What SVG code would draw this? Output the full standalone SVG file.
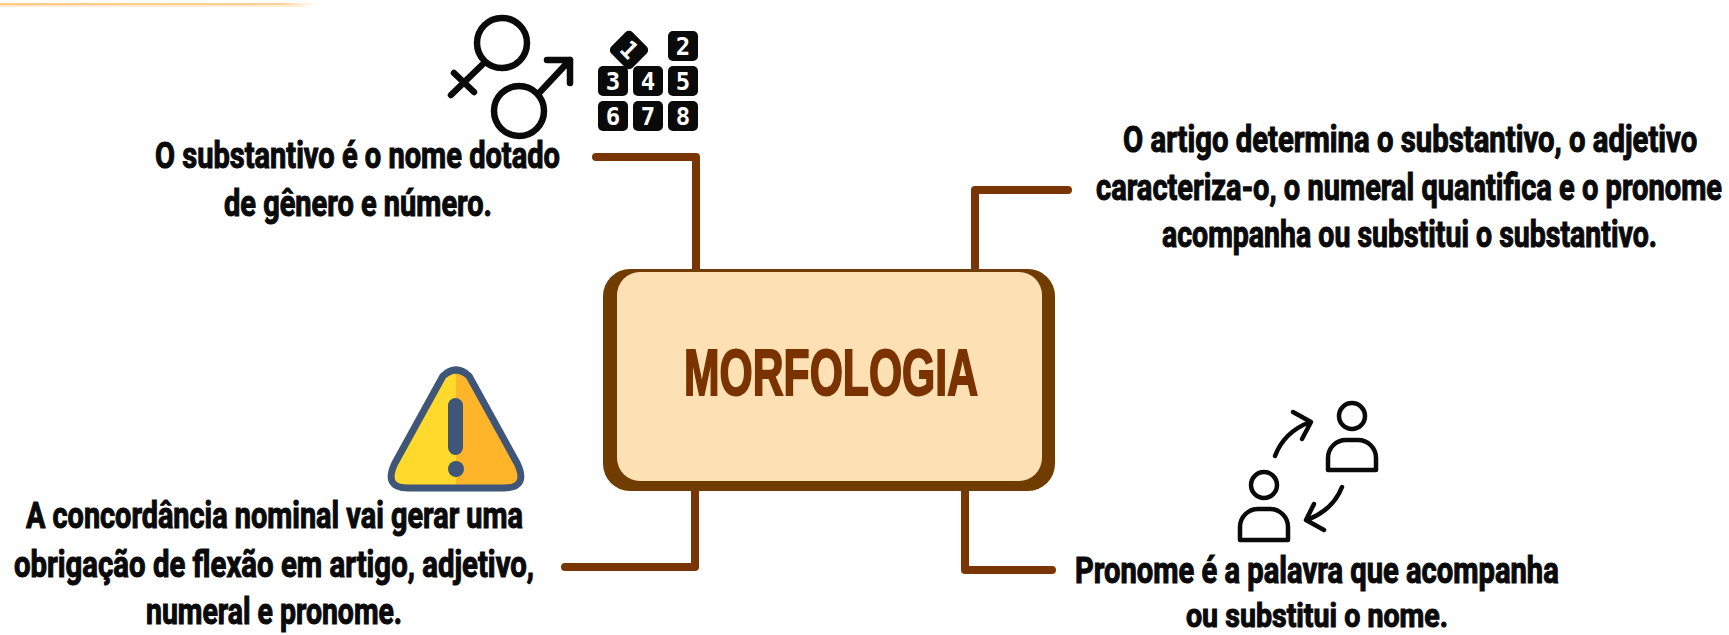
<svg xmlns="http://www.w3.org/2000/svg" width="1729" height="635" viewBox="0 0 1729 635">
<style>
.t{font-family:"Roboto","Liberation Sans",sans-serif;font-weight:700;font-size:36px;fill:#0a0a0a;stroke:#0a0a0a;stroke-width:1.1px}
.c{fill:none;stroke:#7a3504;stroke-width:8;stroke-linecap:round;stroke-linejoin:round}
.i{fill:none;stroke:#0a0a0a;stroke-linecap:round;stroke-linejoin:round}
.k{fill:#0a0a0a}
.n{font-family:"DejaVu Sans Mono","Liberation Mono",monospace;font-weight:700;font-size:24px;fill:#fff;text-anchor:middle}
</style>
<defs>
<linearGradient id="fade" x1="0" y1="0" x2="1" y2="0"><stop offset="0" stop-color="#ffc981"/><stop offset=".9" stop-color="#ffd199"/><stop offset="1" stop-color="#ffe8cc" stop-opacity=".2"/></linearGradient>
</defs>
<rect width="1729" height="635" fill="#fff"/>
<rect x="0" y="3" width="315" height="2.5" fill="url(#fade)"/>
<rect x="0" y="5.5" width="305" height="1.5" fill="#ffedd6"/>
<g id="connectors">
<path class="c" d="M596 157H696V270"/>
<path class="c" d="M1068 190H975V270"/>
<path class="c" d="M565 567H695V490"/>
<path class="c" d="M1052 570H965V490"/>
</g>
<g id="morfologia">
<rect x="603" y="269" width="452" height="222" rx="27" fill="#703c00"/>
<rect x="617" y="272" width="425" height="209" rx="23" fill="#fee0b5"/>
<text x="684" y="395" font-family="Liberation Sans,sans-serif" font-weight="700" font-size="65" fill="#7a3300" stroke="#7a3300" stroke-width="2" textLength="294" lengthAdjust="spacingAndGlyphs">MORFOLOGIA</text>
</g>
<g id="substantivo">
<g stroke-width="6.5" class="i">
<circle cx="502" cy="43" r="25"/>
<path d="M483 64L451 95M454 73L474 92"/>
<circle cx="519" cy="111" r="25"/>
<path d="M540 92L570 60M547 60H570V83"/>
</g>
<g>
<rect class="k" x="598" y="66" width="30" height="30" rx="5"/><rect class="k" x="633" y="66" width="30" height="30" rx="5"/><rect class="k" x="668" y="66" width="30" height="30" rx="5"/>
<rect class="k" x="598" y="101" width="30" height="30" rx="5"/><rect class="k" x="633" y="101" width="30" height="30" rx="5"/><rect class="k" x="668" y="101" width="30" height="30" rx="5"/>
<rect class="k" x="668" y="31" width="30" height="30" rx="5"/>
<rect class="k" x="614" y="35" width="30" height="30" rx="5" transform="rotate(45 629 50)"/>
<text class="n" x="629" y="58" transform="rotate(45 629 50)">1</text>
<text class="n" x="683" y="55">2</text><text class="n" x="613" y="90">3</text><text class="n" x="648" y="90">4</text><text class="n" x="683" y="90">5</text>
<text class="n" x="613" y="125">6</text><text class="n" x="648" y="125">7</text><text class="n" x="683" y="125">8</text>
</g>
<text class="t" transform="translate(155 168) scale(.66 1)" textLength="613.6" lengthAdjust="spacingAndGlyphs">O substantivo é o nome dotado</text>
<text class="t" transform="translate(224 216) scale(.66 1)" textLength="406" lengthAdjust="spacingAndGlyphs">de gênero e número.</text>
</g>
<g id="artigo">
<text class="t" transform="translate(1123 152) scale(.66 1)" textLength="870" lengthAdjust="spacingAndGlyphs">O artigo determina o substantivo, o adjetivo</text>
<text class="t" transform="translate(1096 200) scale(.66 1)" textLength="948.5" lengthAdjust="spacingAndGlyphs">caracteriza-o, o numeral quantifica e o pronome</text>
<text class="t" transform="translate(1162 247) scale(.66 1)" textLength="750" lengthAdjust="spacingAndGlyphs">acompanha ou substitui o substantivo.</text>
</g>
<g id="concordancia">
<path d="M456 370Q449 370 443 376L395 463Q383 488 408 488H456Z" fill="#ffd92b"/>
<path d="M456 370Q463 370 469 376L517 463Q529 488 504 488H456Z" fill="#ffb52a"/>
<path d="M443 376Q456 364 469 376L517 463Q529 488 504 488H408Q383 488 395 463Z" fill="none" stroke="#3f5679" stroke-width="7" stroke-linejoin="round"/>
<rect x="448" y="398" width="15" height="57" rx="7.5" fill="#3f5679"/>
<circle cx="456" cy="469" r="8" fill="#3f5679"/>
<text class="t" transform="translate(26 528) scale(.66 1)" textLength="753" lengthAdjust="spacingAndGlyphs">A concordância nominal vai gerar uma</text>
<text class="t" transform="translate(14 577) scale(.66 1)" textLength="788" lengthAdjust="spacingAndGlyphs">obrigação de flexão em artigo, adjetivo,</text>
<text class="t" transform="translate(146 624) scale(.66 1)" textLength="388" lengthAdjust="spacingAndGlyphs">numeral e pronome.</text>
</g>
<g id="pronome">
<g class="i" stroke-width="4.5">
<circle cx="1352" cy="416" r="13"/>
<path d="M1328 470V458a18 18 0 0 1 18-18h12a18 18 0 0 1 18 18V470Z"/>
<circle cx="1264" cy="485" r="13"/>
<path d="M1240 540V527a18 18 0 0 1 18-18h12a18 18 0 0 1 18 18V540Z"/>
<path d="M1275 456Q1284 432 1310 422M1293 412L1311 422L1302 439"/>
<path d="M1342 487Q1333 510 1307 520M1314 504L1306 520L1324 530"/>
</g>
<text class="t" transform="translate(1075 583) scale(.66 1)" textLength="733" lengthAdjust="spacingAndGlyphs">Pronome é a palavra que acompanha</text>
<text class="t" style="font-size:33px" transform="translate(1186 627) scale(.66 1)" textLength="397" lengthAdjust="spacingAndGlyphs">ou substitui o nome.</text>
</g>
</svg>
